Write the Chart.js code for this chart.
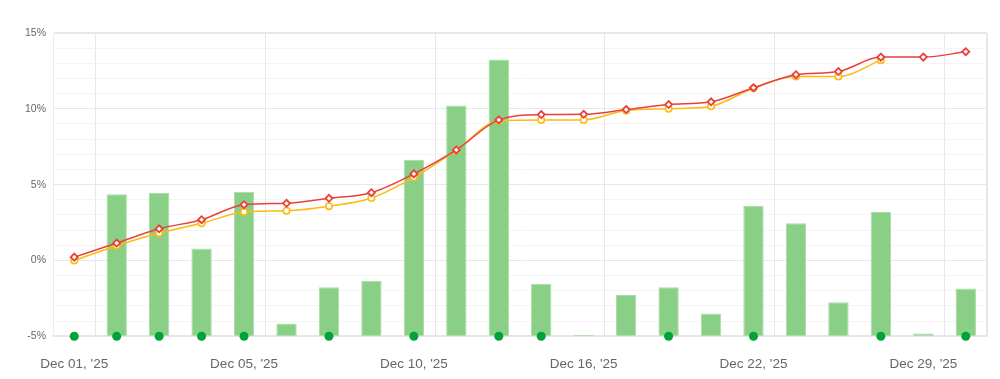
<!DOCTYPE html>
<html>
<head>
<meta charset="utf-8">
<script src="https://cdn.jsdelivr.net/npm/chart.js@4/dist/chart.umd.min.js"></script>
<style>
html,body{margin:0;padding:0;background:#fff;}
#wrap{width:1000px;height:379px;position:relative;}
</style>
</head>
<body>
<div id="wrap"><canvas id="c"></canvas></div>
<script>
const dates = ["Dec 01, '25","Dec 02, '25","Dec 03, '25","Dec 04, '25","Dec 05, '25","Dec 07, '25","Dec 08, '25","Dec 09, '25","Dec 10, '25","Dec 11, '25","Dec 12, '25","Dec 15, '25","Dec 16, '25","Dec 17, '25","Dec 18, '25","Dec 19, '25","Dec 22, '25","Dec 23, '25","Dec 24, '25","Dec 26, '25","Dec 29, '25","Dec 30, '25"];
const labelEvery = 4;
const redSeries = [0.22,1.15,2.09,2.69,3.68,3.77,4.1,4.47,5.71,7.29,9.27,9.62,9.64,9.95,10.28,10.46,11.39,12.25,12.46,13.41,13.41,13.77];
const yellowSeries = [0.0,0.97,1.81,2.45,3.2,3.28,3.58,4.12,5.48,7.27,9.22,9.27,9.27,9.89,10.0,10.17,11.36,12.13,12.13,13.21,null,null];
const barTops = [null,4.36,4.45,0.79,4.54,-4.16,-1.76,-1.34,6.65,10.22,13.26,-1.54,-4.91,-2.27,-1.76,-3.5,3.61,2.45,-2.75,3.2,-4.82,-1.85];
const dotFlags = [1,1,1,1,1,0,1,0,1,0,1,1,0,0,1,0,1,0,0,1,0,1];
const yMin = -5, yMax = 15, yStep = 1, yMajor = 5;

const dotValues = dotFlags.map(f => f ? yMin : null);
const gridMajor = '#e8e8e8', gridMinor = '#f4f4f4';
const font = {family: "'Liberation Sans', Arial, sans-serif"};

new Chart(document.getElementById('c'), {
  data: {
    labels: dates,
    datasets: [
      {
        type: 'line', label: 'dots', data: dotValues, order: 0,
        showLine: false, pointRadius: 4.5, pointHoverRadius: 4.5,
        pointBackgroundColor: '#00a23a', pointBorderWidth: 0, clip: false
      },
      {
        type: 'line', label: 'red', data: redSeries, order: 1,
        borderColor: '#e8403c', borderWidth: 1.5, cubicInterpolationMode: 'monotone',
        pointStyle: 'rectRot', pointRadius: 3.5, pointBorderWidth: 1.8,
        pointBorderColor: '#e8403c', pointBackgroundColor: '#ffffff', clip: false
      },
      {
        type: 'line', label: 'yellow', data: yellowSeries, order: 2,
        borderColor: '#fdbb12', borderWidth: 1.5, cubicInterpolationMode: 'monotone',
        pointStyle: 'circle', pointRadius: 3.2, pointBorderWidth: 1.6,
        pointBorderColor: '#fdbb12', pointBackgroundColor: '#ffffff', clip: false
      },
      {
        type: 'bar', label: 'bars', data: barTops, order: 3, base: yMin,
        backgroundColor: '#89cf85', borderColor: '#a9dca6', borderWidth: 1,
        categoryPercentage: 1, barPercentage: 0.48
      }
    ]
  },
  options: {
    responsive: true, maintainAspectRatio: false, animation: false,
    layout: {padding: {top: 33, right: 13, bottom: -13.5, left: 18}},
    plugins: {legend: {display: false}, tooltip: {enabled: false}},
    scales: {
      x: {
        offset: true,
        grid: {
          offset: true, drawTicks: false,
          color: c => (c.index === undefined) ? '#e6e6e6' : ((c.index % labelEvery === 1 || c.index === 0) ? gridMajor : 'rgba(0,0,0,0)'),
          lineWidth: c => (c.index === undefined) ? 2 : 1
        },
        border: {color: '#e6e6e6', width: 2},
        ticks: {
          autoSkip: false, maxRotation: 0, minRotation: 0, padding: 20,
          color: '#666', font: Object.assign({size: 13.5}, font),
          callback: function(v, i) { return i % labelEvery === 0 ? this.getLabelForValue(v) : ''; }
        }
      },
      y: {
        min: yMin, max: yMax,
        grid: {
          drawTicks: false,
          color: c => (c.tick && c.tick.value % yMajor === 0) ? gridMajor : gridMinor,
          lineWidth: c => (c.tick && c.tick.value === yMax) ? 2 : 1
        },
        border: {color: '#ececec', width: 1},
        ticks: {
          stepSize: yStep, maxTicksLimit: 30, autoSkip: false, padding: 7, color: '#666',
          font: Object.assign({size: 10.5}, font),
          callback: v => (v % yMajor === 0) ? v + '%' : ''
        }
      }
    }
  }
});
</script>
</body>
</html>
